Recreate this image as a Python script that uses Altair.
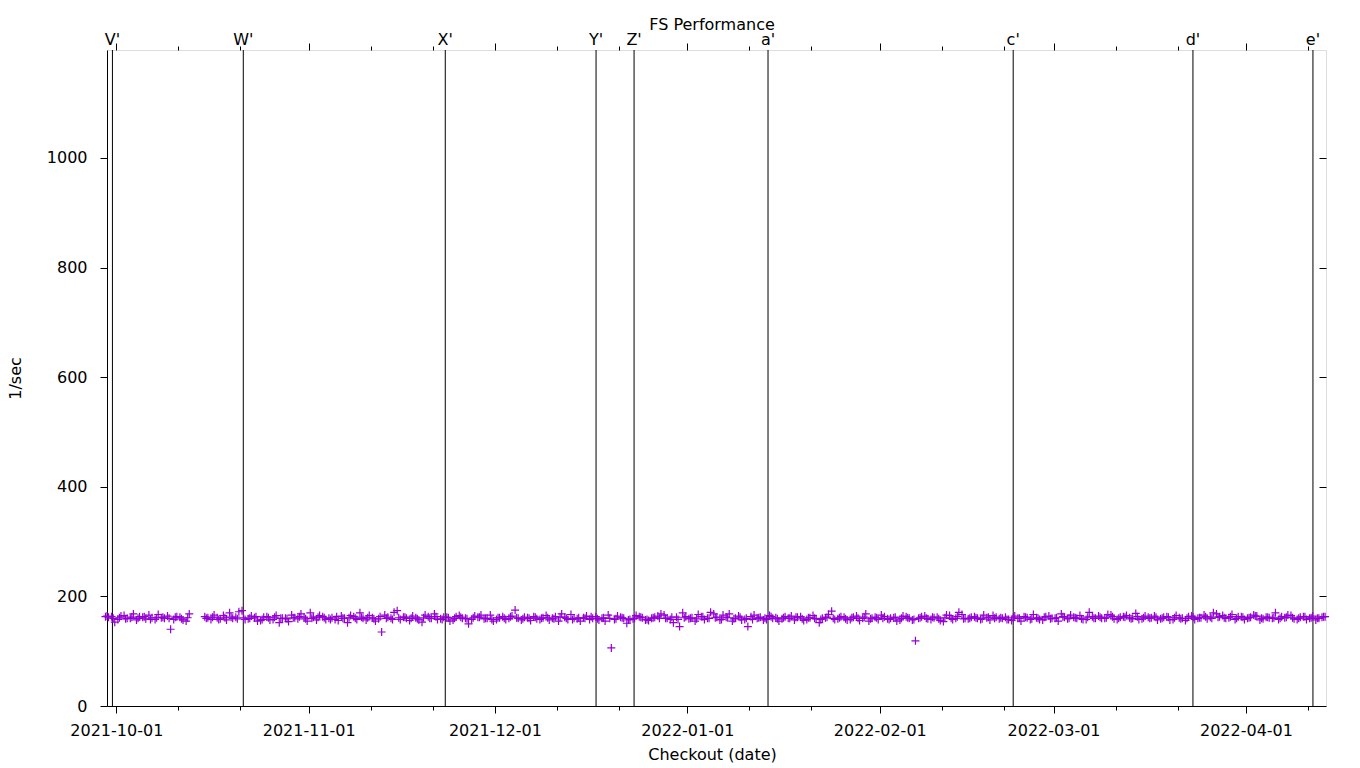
import altair as alt
import pandas as pd

# ---------------- data ----------------
chart_title = "FS Performance"
start_date = "2021-09-29"
days = [
    0, 1, 2, 3, 4, 5, 6, 7, 8, 9,
    10, 11, 12, 13, 14, 15, 16, 17, 18, 19,
    20, 21, 22, 23, 24, 25, 26, 27, 28, 29,
    30, 31, 32, 33, 34, 35, 36, 37, 38, 39,
    40, 41, 42, 43, 44, 45, 46, 47, 48, 49,
    50, 51, 52, 53, 54, 55, 56, 57, 58, 59,
    60, 61, 62, 63, 64, 65, 66, 67, 68, 69,
    70, 71, 72, 73, 74, 75, 76, 77, 78, 79,
    80, 81, 82, 83, 84, 85, 86, 87, 88, 89,
    90, 91, 92, 93, 94, 95, 96, 97, 98, 99,
    100, 101, 102, 103, 104, 105, 106, 107, 108, 109,
    110, 111, 112, 113, 114, 115, 116, 117, 118, 119,
    120, 121, 122, 123, 124, 125, 126, 127, 128, 129,
    130, 131, 132, 133, 134, 135, 136, 137, 138, 139,
    140, 141, 142, 143, 144, 145, 146, 147, 148, 149,
    150, 151, 152, 153, 154, 155, 156, 157, 158, 159,
    160, 161, 162, 163, 164, 165, 166, 167, 168, 169,
    170, 171, 172, 173, 174, 175, 176, 177, 178, 179,
    180, 181, 182, 183, 184, 185, 186, 187, 188, 189,
    190, 191, 192, 193, 194, 195, 196,
]
# morning runs (06:00)
vals_06 = [
    163, 163, 158, 165, 160, 157, 162, 166, 158, 161,
    164, 158, 162, 155, None, None, 163, 158, 161, 165,
    170, 162, 174, 159, 161, 156, 163, 158, 152, 160,
    166, 159, 162, 170, 157, 163, 160, 158, 164, 152,
    163, 170, 157, 161, 159, 166, 160, 174, 162, 156,
    161, 153, 163, 168, 159, 162, 157, 165, 160, 158,
    162, 159, 166, 158, 163, 160, 175, 157, 161, 163,
    158, 165, 160, 155, 162, 167, 159, 161, 158, 163,
    160, 166, 158, 162, 151, 159, 163, 157, 160, 164,
    166, 158, 162, 170, 159, 155, 163, 160, 168, 157,
    162, 155, 164, 158, 163, 160, 157, 165, 161, 159,
    160, 157, 163, 158, 165, 152, 161, 173, 159, 162,
    158, 164, 160, 155, 162, 166, 159, 161, 157, 163,
    157, 160, 164, 158, 162, 154, 165, 160, 167, 159,
    163, 158, 161, 165, 159, 162, 156, 160, 163, 158,
    161, 157, 164, 160, 168, 159, 162, 165, 158, 163,
    164, 160, 166, 158, 163, 161, 169, 159, 162, 164,
    159, 163, 158, 161, 156, 164, 160, 166, 162, 168,
    165, 161, 158, 163, 160, 166, 157, 162, 160, 158,
    161, 165, 158, 163, 160, 157, 162,
]
# midday runs (12:00)
vals_12 = [
    164, 160, 161, 159, 162, 160, 163, 158, 161, 162,
    160, 162, 159, 161, None, None, 160, 162, 158, 161,
    162, 159, 161, 160, 163, 158, 161, 162, 160, 159,
    161, 163, 159, 160, 162, 161, 158, 163, 160, 161,
    160, 162, 161, 159, 163, 160, 158, 161, 162, 160,
    159, 161, 160, 163, 158, 161, 160, 162, 159, 161,
    162, 160, 158, 161, 160, 163, 161, 159, 160, 162,
    160, 161, 159, 162, 160, 158, 161, 160, 163, 159,
    161, 160, 159, 161, 157, 160, 162, 158, 161, 160,
    160, 162, 158, 161, 160, 159, 163, 160, 161, 158,
    161, 159, 162, 160, 158, 161, 160, 163, 159, 161,
    160, 162, 159, 161, 160, 158, 162, 160, 161, 159,
    161, 160, 162, 159, 161, 160, 158, 162, 160, 161,
    158, 161, 160, 162, 159, 161, 160, 163, 159, 160,
    161, 159, 162, 160, 161, 158, 161, 160, 162, 159,
    160, 162, 159, 161, 163, 160, 161, 159, 162, 160,
    162, 161, 163, 160, 162, 159, 163, 161, 160, 162,
    160, 162, 161, 159, 160, 162, 161, 163, 160, 162,
    161, 163, 160, 162, 161, 164, 160, 162, 161, 160,
    162, 161, 160, 163, 161, 160, 163,
]
# evening runs (18:00)
vals_18 = [
    162, 153, 164, 160, 168, 163, 159, 161, 167, 160,
    140, 163, 157, 168, None, None, 161, 166, 159, 157,
    160, 172, 158, 164, 155, 162, 157, 165, 160, 154,
    161, 168, 155, 162, 165, 158, 161, 156, 160, 165,
    158, 160, 165, 155, 135, 162, 171, 158, 160, 164,
    157, 166, 160, 158, 162, 155, 163, 160, 150, 164,
    166, 160, 155, 161, 158, 164, 160, 162, 156, 159,
    161, 157, 163, 168, 158, 160, 155, 164, 160, 157,
    155, 106, 164, 160, 158, 165, 161, 156, 162, 168,
    160, 152, 145, 163, 161, 167, 158, 171, 162, 166,
    168, 160, 157, 145, 166, 162, 158, 160, 155, 163,
    164, 162, 156, 161, 159, 160, 167, 158, 163, 157,
    162, 156, 168, 160, 158, 163, 160, 155, 164, 160,
    119, 163, 159, 161, 156, 166, 158, 171, 160, 162,
    160, 166, 157, 162, 160, 158, 164, 155, 161, 167,
    158, 163, 160, 155, 162, 166, 160, 158, 171, 160,
    160, 167, 159, 162, 165, 160, 158, 164, 161, 157,
    162, 157, 165, 160, 163, 158, 161, 159, 170, 163,
    160, 167, 163, 158, 162, 164, 159, 161, 170, 163,
    166, 159, 162, 158, 164, 160, 163,
]
run_hours = [6, 12, 18]

event_names = ["V'", "W'", "X'", "Y'", "Z'", "a'", "c'", "d'", "e'"]
event_dates = [
    "2021-09-30T09:00:00", "2021-10-21T11:00:00", "2021-11-23T00:00:00",
    "2021-12-17T07:00:00", "2021-12-23T10:00:00", "2022-01-14T00:00:00",
    "2022-02-22T12:00:00", "2022-03-23T11:00:00", "2022-04-11T19:00:00",
]

major_ticks = ["2021-10-01", "2021-11-01", "2021-12-01", "2022-01-01",
               "2022-02-01", "2022-03-01", "2022-04-01"]
minor_ticks = ["2021-10-11", "2021-10-21", "2021-11-11", "2021-11-21",
               "2021-12-11", "2021-12-21", "2022-01-11", "2022-01-21",
               "2022-02-11", "2022-02-21", "2022-03-11", "2022-03-21",
               "2022-04-11"]
y_ticks = [0, 200, 400, 600, 800, 1000]
y_right_ticks = [200, 400, 600, 800, 1000]
x_domain = [(2021, 9, 29, 12, 0), (2022, 4, 13, 21, 30)]
y_domain = [0, 1197]

# ---------------- build tables ----------------
rows = []
base_ts = pd.Timestamp(start_date)
for series, hour in zip([vals_06, vals_12, vals_18], run_hours):
    for d, v in zip(days, series):
        if v is None:
            continue
        ts = base_ts + pd.Timedelta(days=d, hours=hour)
        rows.append({"t": ts.strftime("%Y-%m-%dT%H:%M:%S"), "v": v})
df = pd.DataFrame(rows)

events = pd.DataFrame({"name": event_names, "t": event_dates})
title_df = pd.DataFrame({"title": [chart_title]})


def to_dt(s):
    p = [int(x) for x in s.split("-")]
    return alt.DateTime(year=p[0], month=p[1], date=p[2])


major_vals = [to_dt(s) for s in major_ticks]
minor_vals = [to_dt(s) for s in minor_ticks]
dom = [alt.DateTime(year=a, month=b, date=c, hours=h, minutes=m) for a, b, c, h, m in x_domain]

FONT = "DejaVu Sans"
PURPLE = "#9400D3"

xscale = alt.Scale(domain=dom)
yscale = alt.Scale(domain=y_domain, nice=False, zero=False)

common_axis = dict(grid=False, tickColor="black", domainColor="black",
                   labelColor="black", titleColor="black", tickWidth=1,
                   domainWidth=1, labelFont=FONT, titleFont=FONT,
                   labelFontSize=16, titleFontSize=16, titleFontWeight="normal")

# bottom major axis with labels + left axis
points = alt.Chart(df).mark_point(
    shape="M-1,0L1,0M0,-1L0,1", size=64, filled=False, strokeWidth=1.2,
    color=PURPLE, opacity=1,
).encode(
    x=alt.X("t:T", scale=xscale, axis=alt.Axis(
        orient="bottom", values=major_vals, format="%Y-%m-%d", tickSize=7,
        labelPadding=9, title="Checkout (date)", titleX=605, titleY=53,
        titleBaseline="alphabetic", titleAnchor="start", titleAlign="center",
        labelFlush=False, labelOverlap=False, **common_axis)),
    y=alt.Y("v:Q", scale=yscale, axis=alt.Axis(
        orient="left", values=y_ticks, format="d", tickSize=7, labelPadding=13,
        title="1/sec", titleX=-87, titleY=328, titleAngle=270,
        titleBaseline="alphabetic", titleAlign="center", labelFlush=False,
        **common_axis)),
)

# event lines + bottom minor ticks
rules = alt.Chart(events).mark_rule(color="black", strokeWidth=1).encode(
    x=alt.X("t:T", scale=xscale, axis=alt.Axis(
        orient="bottom", values=minor_vals, tickSize=4, labels=False,
        domain=False, title="", **common_axis)),
)

# event labels + top major ticks
labels = alt.Chart(events).mark_text(
    font=FONT, fontSize=16, color="black", baseline="alphabetic", align="center",
).encode(
    x=alt.X("t:T", scale=xscale, axis=alt.Axis(
        orient="top", values=major_vals, tickSize=7, labels=False,
        domain=False, title="", **common_axis)),
    y=alt.value(-5),
    text="name:N",
)

# chart title
title_mark = alt.Chart(title_df).mark_text(
    font=FONT, fontSize=16, color="black", baseline="alphabetic", align="center",
).encode(
    x=alt.value(605),
    y=alt.value(-20),
    text="title:N",
)

# invisible layer carrying top minor ticks and right mirror ticks
ghost = alt.Chart(df).mark_point(opacity=0, size=1).encode(
    x=alt.X("t:T", scale=xscale, axis=alt.Axis(
        orient="top", values=minor_vals, tickSize=4, labels=False,
        domain=False, title="", **common_axis)),
    y=alt.Y("v:Q", scale=yscale, axis=alt.Axis(
        orient="right", values=y_right_ticks, tickSize=7, offset=-7,
        labels=False, domain=False, title="", **common_axis)),
)

chart = alt.layer(rules, points, labels, ghost, title_mark).resolve_axis(
    x="independent", y="independent"
).properties(
    width=1219, height=656,
    autosize=alt.AutoSizeParams(type="none"),
    padding={"left": 107, "top": 50, "right": 34, "bottom": 62},
).configure_view(stroke=None).configure(background="white")

chart.save("out.html", embed_options={"renderer": "svg", "actions": False})
